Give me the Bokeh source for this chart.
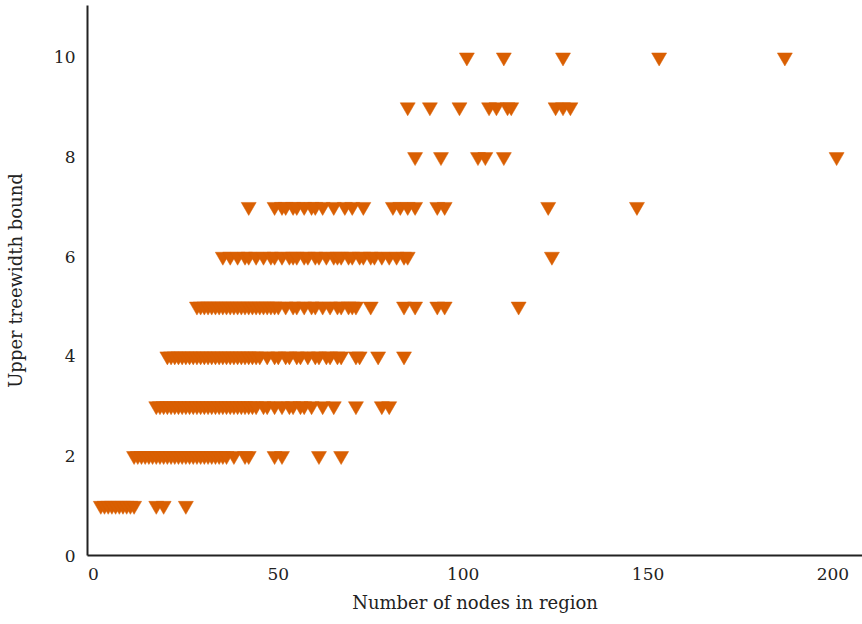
from bokeh.plotting import figure
from bokeh.models import Range1d, FixedTicker, ColumnDataSource
from bokeh.embed import file_html
from bokeh.resources import INLINE

# Region sizes (number of nodes) grouped by their upper treewidth bound
nodes_tw1 = [2, 3, 4, 5, 6, 7, 8, 9, 10, 11, 17, 19, 25]
nodes_tw2 = [11, 12, 13, 14, 15, 16, 17, 18, 19, 20, 21, 22, 23, 24, 25, 26, 27,
             28, 29, 30, 31, 32, 33, 34, 35, 36, 38, 41, 42, 49, 51, 61, 67]
nodes_tw3 = [17, 18, 19, 20, 21, 22, 23, 24, 25, 26, 27, 28, 29, 30, 31, 32, 33,
             34, 35, 36, 37, 38, 39, 40, 41, 42, 43, 44, 46, 47, 49, 51, 53, 54,
             56, 57, 59, 62, 65, 71, 78, 80]
nodes_tw4 = [20, 21, 22, 23, 24, 25, 26, 27, 28, 29, 30, 31, 32, 33, 34, 35, 36,
             37, 38, 39, 40, 41, 42, 43, 44, 45, 47, 49, 50, 52, 53, 55, 56, 58,
             60, 61, 63, 64, 66, 67, 71, 72, 77, 84]
nodes_tw5 = [28, 29, 30, 31, 32, 33, 34, 35, 36, 37, 38, 39, 40, 41, 42, 43, 44,
             45, 46, 47, 48, 49, 50, 52, 54, 55, 57, 59, 60, 62, 64, 66, 67, 69,
             70, 71, 75, 84, 87, 93, 95, 115]
nodes_tw6 = [35, 37, 39, 41, 42, 44, 46, 48, 49, 51, 53, 54, 55, 57, 58, 60, 61,
             63, 65, 66, 67, 69, 70, 72, 73, 75, 76, 78, 80, 82, 84, 85, 124]
nodes_tw7 = [42, 49, 51, 52, 54, 55, 57, 59, 60, 62, 65, 68, 70, 73, 81, 83, 85,
             87, 93, 95, 123, 147]
nodes_tw8 = [87, 94, 104, 106, 111, 201]
nodes_tw9 = [85, 91, 99, 107, 109, 112, 113, 125, 127, 129]
nodes_tw10 = [101, 111, 127, 153, 187]

x_ticks = [0, 50, 100, 150, 200]
y_ticks = [0, 2, 4, 6, 8, 10]

groups = {1: nodes_tw1, 2: nodes_tw2, 3: nodes_tw3, 4: nodes_tw4, 5: nodes_tw5,
          6: nodes_tw6, 7: nodes_tw7, 8: nodes_tw8, 9: nodes_tw9, 10: nodes_tw10}
xs, ys = [], []
for bound, nodes in groups.items():
    xs.extend(nodes)
    ys.extend([bound] * len(nodes))
source = ColumnDataSource(data=dict(nodes=xs, bound=ys))

FONT = "DejaVu Serif"
INK = "#222222"
ORANGE = "#d95f02"

p = figure(width=862, height=624, output_backend="svg", toolbar_location=None,
           x_range=Range1d(-1.6, 208), y_range=Range1d(0, 11.04),
           min_border_left=87, min_border_right=0, min_border_top=5,
           min_border_bottom=69, background_fill_color="white",
           border_fill_color="white")
p.outline_line_color = None
p.grid.visible = False

p.scatter("nodes", "bound", source=source, marker="inverted_triangle", size=15,
          fill_color=ORANGE, line_color=ORANGE, line_width=0.5)

p.xaxis.ticker = FixedTicker(ticks=x_ticks)
p.yaxis.ticker = FixedTicker(ticks=y_ticks)
p.xaxis.axis_label = "Number of nodes in region"
p.yaxis.axis_label = "Upper treewidth bound"

for ax in (p.xaxis, p.yaxis):
    ax.axis_line_color = INK
    ax.axis_line_width = 2
    ax.major_tick_line_color = None
    ax.minor_tick_line_color = None
    ax.major_tick_out = 0
    ax.major_tick_in = 0
    ax.minor_tick_out = 0
    ax.minor_tick_in = 0
    ax.major_label_standoff = 12
    ax.major_label_text_font = FONT
    ax.major_label_text_font_size = "17px"
    ax.major_label_text_color = INK
    ax.axis_label_text_font = FONT
    ax.axis_label_text_font_size = "18px"
    ax.axis_label_text_font_style = "normal"
    ax.axis_label_text_color = INK

p.xaxis.axis_label_standoff = 9
p.yaxis.axis_label_standoff = 25

open("out.html", "w").write(file_html(p, INLINE))
